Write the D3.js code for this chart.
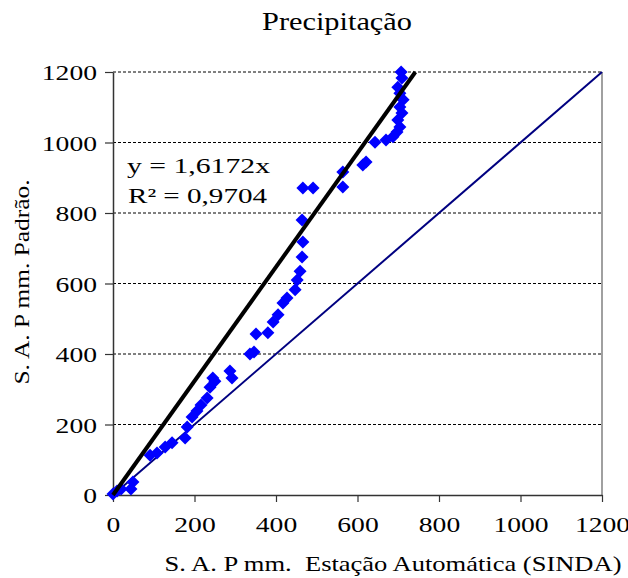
<!DOCTYPE html>
<html>
<head>
<meta charset="utf-8">
<script src="https://cdn.jsdelivr.net/npm/d3@7"></script>
<style>
body { margin: 0; background: #fff; }
</style>
</head>
<body>
<div id="chart"></div>
<script>
var width = 628;
var height = 578;

// data
var xTicks = [0, 200, 400, 600, 800, 1000, 1200];
var yTicks = [0, 200, 400, 600, 800, 1000, 1200];
var sinda = [0, 10, 20, 44, 49, 91, 108, 128, 145, 177, 182, 194, 206, 216, 231, 238, 250, 245, 287, 292,
             336, 346, 351, 380, 393, 405, 417, 427, 447, 452, 459, 464, 466, 464, 466, 491, 564, 564,
             613, 621, 643, 670, 687, 697, 704, 699, 709, 704, 712, 704, 699, 709, 707];
var padrao = [3, 11, 17, 17, 37, 113, 119, 136, 148, 162, 193, 221, 238, 255, 275, 306, 323, 332, 352, 332,
              400, 406, 457, 460, 491, 511, 545, 559, 582, 610, 635, 675, 718, 780, 871, 871, 874, 916,
              936, 945, 1001, 1007, 1016, 1030, 1044, 1064, 1084, 1101, 1121, 1140, 1157, 1183, 1200];
var slope = 1.6172;
var eqText = "y = 1,6172x";
var r2Text = "R\u00b2 = 0,9704";

var pLeft = 113, pRight = 602, pTop = 72, pBottom = 495;
var serif = "'Liberation Serif', 'Times New Roman', serif";

var svg = d3.select("#chart").append("svg")
    .attr("width", width)
    .attr("height", height);

var x = d3.scaleLinear().domain([0, 1200]).range([pLeft, pRight]);
var y = d3.scaleLinear().domain([0, 1200]).range([pBottom, pTop]);

// plot border (right side)
svg.append("line")
    .attr("x1", pRight).attr("x2", pRight)
    .attr("y1", pTop).attr("y2", pBottom)
    .attr("stroke", "#808080").attr("stroke-width", 1.5);

// gridlines
svg.selectAll(".grid").data(yTicks.filter(function (d) { return d > 0; }))
  .enter().append("line")
    .attr("class", "grid")
    .attr("x1", pLeft).attr("x2", pRight)
    .attr("y1", function (d) { return y(d); })
    .attr("y2", function (d) { return y(d); })
    .attr("stroke", "#000")
    .attr("stroke-width", 1)
    .attr("stroke-dasharray", "3,2");

// axes
var xAxis = svg.append("g")
    .attr("transform", "translate(0," + pBottom + ")")
    .call(d3.axisBottom(x).tickValues(xTicks).tickFormat(d3.format("d"))
      .tickSize(7).tickPadding(14).tickSizeOuter(0));
var yAxis = svg.append("g")
    .attr("transform", "translate(" + pLeft + ",0)")
    .call(d3.axisLeft(y).tickValues(yTicks).tickFormat(d3.format("d"))
      .tickSize(8).tickPadding(8).tickSizeOuter(0));

[xAxis, yAxis].forEach(function (g) {
  g.select(".domain").attr("stroke", "#333").attr("stroke-width", 1.5);
  g.selectAll(".tick line").attr("stroke", "#333").attr("stroke-width", 1.2);
  g.selectAll("text")
      .style("font-family", serif)
      .style("font-size", "22px")
      .attr("fill", "#000")
      .attr("lengthAdjust", "spacingAndGlyphs")
      .attr("textLength", function (d) { return String(d).length * 13.8; });
});
yAxis.selectAll("text").attr("dy", "0.35em");
xAxis.selectAll("text").attr("dy", "0.71em");

// 1:1 line
svg.append("line")
    .attr("x1", x(0)).attr("y1", y(0))
    .attr("x2", x(1200)).attr("y2", y(1200))
    .attr("stroke", "#000080")
    .attr("stroke-width", 2);

// points
var diamond = "M0,-6.5L6.5,0L0,6.5L-6.5,0Z";
svg.selectAll(".pt").data(d3.range(sinda.length))
  .enter().append("path")
    .attr("class", "pt")
    .attr("d", diamond)
    .attr("transform", function (i) { return "translate(" + x(sinda[i]) + "," + y(padrao[i]) + ")"; })
    .attr("fill", "#0000ff");

// trend line
svg.append("line")
    .attr("x1", x(0)).attr("y1", y(0))
    .attr("x2", x(1200 / slope)).attr("y2", y(1200))
    .attr("stroke", "#000")
    .attr("stroke-width", 4);

// texts
function label(txt, px, py, size, len, anchor) {
  return svg.append("text")
      .attr("x", px).attr("y", py)
      .attr("text-anchor", anchor || "start")
      .style("font-family", serif).style("font-size", size + "px")
      .style("white-space", "pre")
      .attr("lengthAdjust", "spacingAndGlyphs")
      .attr("textLength", len)
      .text(txt);
}

label("Precipitação", 337, 30, 26, 150, "middle");
label(eqText, 127, 173, 21, 143);
label(r2Text, 128, 203, 21, 139);
label("S. A. P mm.  Estação Automática (SINDA)", 393, 571, 22, 457, "middle");
label("S. A. P mm. Padrão.", 0, 0, 22, 205, "middle")
    .attr("transform", "translate(29,282) rotate(-90)");
</script>
</body>
</html>
